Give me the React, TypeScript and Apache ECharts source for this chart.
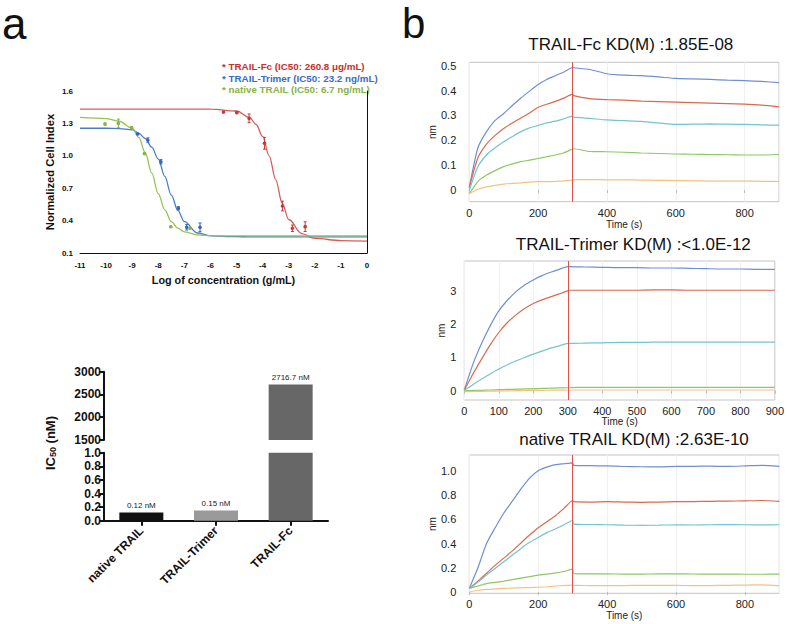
import React, { useEffect, useRef } from 'react';
import * as echarts from 'echarts';

const FONT = '"Liberation Sans", Arial, Helvetica, sans-serif';

// ---------- Panel a: dose response ----------
const CURVE_X = [-11, -10, -9.5, -9, -8.75, -8.5, -8.25, -8, -7.75, -7.5, -7.25, -7, -6.5, -6, -5, -4.5, -4.25, -4, -3.75, -3.5, -3.25, -3, -2.5, -2, -1, 0];
const FC_CURVE = [1.433, 1.433, 1.433, 1.433, 1.433, 1.433, 1.433, 1.433, 1.433, 1.433, 1.433, 1.433, 1.433, 1.432, 1.415, 1.355, 1.29, 1.18, 1.0, 0.78, 0.56, 0.41, 0.28, 0.235, 0.215, 0.21];
const TRIMER_CURVE = [1.255, 1.255, 1.252, 1.24, 1.21, 1.16, 1.08, 0.97, 0.81, 0.635, 0.495, 0.39, 0.285, 0.258, 0.251, 0.25, 0.25, 0.25, 0.25, 0.25, 0.25, 0.25, 0.25, 0.25, 0.25, 0.25];
const NATIVE_CURVE = [1.355, 1.345, 1.32, 1.255, 1.17, 1.03, 0.84, 0.65, 0.5, 0.39, 0.33, 0.295, 0.268, 0.26, 0.258, 0.258, 0.258, 0.258, 0.258, 0.258, 0.258, 0.258, 0.258, 0.258, 0.258, 0.258];

const FC_PTS_X = [-5.5, -4.99, -4.52, -3.93, -3.24, -2.86, -2.37];
const FC_PTS_Y = [1.405, 1.4, 1.347, 1.116, 0.535, 0.329, 0.344];
const FC_PTS_ERR = [0.005, 0.008, 0.04, 0.055, 0.045, 0.03, 0.045];
const TRIMER_PTS_X = [-8.79, -8.4, -7.9, -7.23, -6.91, -6.4];
const TRIMER_PTS_Y = [1.202, 1.146, 0.945, 0.514, 0.338, 0.338];
const TRIMER_PTS_ERR = [0.005, 0.02, 0.02, 0.015, 0.025, 0.04];
const NATIVE_PTS_X = [-10.04, -9.53, -9.02, -8.53, -7.52, -6.78];
const NATIVE_PTS_Y = [1.294, 1.3, 1.26, 1.02, 0.343, 0.33];
const NATIVE_PTS_ERR = [0.01, 0.04, 0.01, 0.005, 0.005, 0.005];

const DOSE_Y_TICKS = [0.1, 0.4, 0.7, 1.0, 1.3, 1.6];
const LEGEND_LINES = [
  '* TRAIL-Fc (IC50: 260.8 \u03bcg/mL)',
  '* TRAIL-Trimer (IC50: 23.2 ng/mL)',
  '* native TRAIL (IC50: 6.7 ng/mL)',
];

// ---------- Panel a: IC50 bars ----------
const BAR_CATS = ['native TRAIL', 'TRAIL-Trimer', 'TRAIL-Fc'];
const BAR_VALUES = [0.12, 0.15, 2716.7];
const BAR_COLORS = ['#111111', '#9a9a9a', '#676767'];

// ---------- Panel b: kinetics ----------
const TIME = [0, 25, 50, 75, 100, 125, 150, 175, 200, 225, 250, 275, 300, 303, 350, 400, 450, 500, 550, 600, 650, 700, 750, 800, 850, 900];

const FC_K_BLUE = [0.01, 0.17, 0.235, 0.28, 0.308, 0.34, 0.37, 0.398, 0.425, 0.445, 0.46, 0.475, 0.493, 0.492, 0.485, 0.468, 0.462, 0.46, 0.455, 0.449, 0.447, 0.445, 0.442, 0.44, 0.437, 0.432];
const FC_K_RED = [0.01, 0.13, 0.185, 0.22, 0.248, 0.27, 0.29, 0.31, 0.333, 0.345, 0.357, 0.37, 0.386, 0.38, 0.368, 0.364, 0.362, 0.358, 0.356, 0.354, 0.352, 0.35, 0.348, 0.346, 0.342, 0.335];
const FC_K_CYAN = [0.0, 0.094, 0.141, 0.17, 0.194, 0.215, 0.235, 0.25, 0.26, 0.27, 0.277, 0.287, 0.297, 0.293, 0.288, 0.282, 0.279, 0.276, 0.27, 0.264, 0.265, 0.266, 0.265, 0.264, 0.262, 0.261];
const FC_K_GREEN = [-0.015, 0.034, 0.06, 0.078, 0.094, 0.105, 0.114, 0.12, 0.127, 0.134, 0.141, 0.15, 0.165, 0.166, 0.155, 0.154, 0.152, 0.149, 0.147, 0.145, 0.144, 0.143, 0.142, 0.141, 0.141, 0.143];
const FC_K_ORANGE = [-0.015, 0.003, 0.013, 0.019, 0.024, 0.027, 0.029, 0.032, 0.034, 0.034, 0.035, 0.037, 0.04, 0.042, 0.042, 0.041, 0.041, 0.04, 0.039, 0.038, 0.037, 0.036, 0.036, 0.036, 0.035, 0.035];

const TRIMER_K_BLUE = [0.02, 0.8, 1.42, 1.95, 2.4, 2.72, 2.98, 3.18, 3.33, 3.46, 3.56, 3.65, 3.73, 3.73, 3.72, 3.71, 3.7, 3.7, 3.69, 3.69, 3.68, 3.67, 3.66, 3.66, 3.65, 3.65];
const TRIMER_K_RED = [0.02, 0.5, 0.95, 1.38, 1.75, 2.05, 2.28, 2.47, 2.62, 2.73, 2.82, 2.91, 3.0, 3.02, 3.02, 3.02, 3.02, 3.02, 3.03, 3.03, 3.02, 3.02, 3.02, 3.02, 3.02, 3.02];
const TRIMER_K_CYAN = [0.02, 0.18, 0.35, 0.5, 0.65, 0.78, 0.9, 1.0, 1.1, 1.19, 1.28, 1.35, 1.42, 1.42, 1.43, 1.44, 1.45, 1.45, 1.46, 1.46, 1.46, 1.46, 1.46, 1.46, 1.46, 1.46];
const TRIMER_K_GREEN = [0.0, 0.005, 0.01, 0.02, 0.03, 0.038, 0.045, 0.052, 0.06, 0.068, 0.075, 0.083, 0.09, 0.095, 0.1, 0.1, 0.1, 0.1, 0.1, 0.1, 0.1, 0.1, 0.1, 0.1, 0.1, 0.1];
const TRIMER_K_ORANGE = [-0.03, -0.025, -0.02, -0.015, -0.01, -0.005, 0.0, 0.005, 0.01, 0.012, 0.015, 0.018, 0.02, 0.02, 0.02, 0.02, 0.02, 0.02, 0.02, 0.02, 0.02, 0.02, 0.02, 0.02, 0.02, 0.02];

const NATIVE_K_BLUE = [0.03, 0.2, 0.4, 0.53, 0.65, 0.75, 0.85, 0.94, 1.0, 1.03, 1.05, 1.058, 1.065, 1.045, 1.042, 1.04, 1.035, 1.033, 1.032, 1.036, 1.037, 1.038, 1.036, 1.04, 1.045, 1.037];
const NATIVE_K_RED = [0.03, 0.09, 0.155, 0.22, 0.28, 0.34, 0.405, 0.47, 0.53, 0.58, 0.63, 0.69, 0.755, 0.745, 0.742, 0.745, 0.742, 0.74, 0.742, 0.745, 0.746, 0.748, 0.75, 0.752, 0.755, 0.748];
const NATIVE_K_CYAN = [0.03, 0.08, 0.14, 0.195, 0.25, 0.305, 0.36, 0.41, 0.45, 0.49, 0.52, 0.555, 0.59, 0.56, 0.557, 0.555, 0.552, 0.55, 0.552, 0.555, 0.553, 0.555, 0.556, 0.555, 0.554, 0.555];
const NATIVE_K_GREEN = [0.03, 0.05, 0.07, 0.08, 0.09, 0.102, 0.115, 0.128, 0.14, 0.148, 0.158, 0.17, 0.19, 0.152, 0.15, 0.15, 0.148, 0.148, 0.15, 0.15, 0.149, 0.148, 0.148, 0.147, 0.147, 0.148];
const NATIVE_K_ORANGE = [0.0, 0.015, 0.022, 0.026, 0.03, 0.033, 0.035, 0.037, 0.04, 0.044, 0.05, 0.054, 0.058, 0.055, 0.054, 0.053, 0.054, 0.055, 0.055, 0.055, 0.054, 0.054, 0.056, 0.058, 0.06, 0.053];

const FC_K_TICKS = [0, 0.1, 0.2, 0.3, 0.4, 0.5];
const TRIMER_K_TICKS = [0, 1, 2, 3];
const NATIVE_K_TICKS = [0, 0.2, 0.4, 0.6, 0.8, 1.0];

const K_COLORS = ['#6f8fd4', '#d96a4e', '#73c4cf', '#8cc865', '#f4c27f'];

function buildOption(): any {
  const doseColors = { fc: '#d95c5a', trimer: '#4a7ccc', native: '#97c155' };
  const ptColors = { fc: '#c8383a', trimer: '#3468c0', native: '#86b445' };

  const curve = (ys: number[], color: string) => ({
    type: 'line',
    xAxisIndex: 0,
    yAxisIndex: 0,
    data: CURVE_X.map((x, i) => [x, ys[i]]),
    showSymbol: false,
    smooth: 0.35,
    smoothMonotone: 'x',
    lineStyle: { color, width: 1.3 },
    z: 2,
  });

  const errPts = (xs: number[], ys: number[], es: number[], color: string) => ({
    type: 'custom',
    xAxisIndex: 0,
    yAxisIndex: 0,
    data: xs.map((x, i) => [x, ys[i], es[i]]),
    z: 4,
    renderItem: (_p: any, api: any) => {
      const x = api.value(0);
      const y = api.value(1);
      const e = api.value(2);
      const c = api.coord([x, y]);
      const hi = api.coord([x, y + e]);
      const lo = api.coord([x, y - e]);
      const st = { stroke: color, lineWidth: 1 };
      return {
        type: 'group',
        children: [
          { type: 'line', shape: { x1: c[0], y1: hi[1], x2: c[0], y2: lo[1] }, style: st },
          { type: 'line', shape: { x1: c[0] - 1.5, y1: hi[1], x2: c[0] + 1.5, y2: hi[1] }, style: st },
          { type: 'line', shape: { x1: c[0] - 1.5, y1: lo[1], x2: c[0] + 1.5, y2: lo[1] }, style: st },
          { type: 'circle', shape: { cx: c[0], cy: c[1], r: 1.8 }, style: { fill: color } },
        ],
      };
    },
  });

  const kin = (idx: number, arrays: number[][]) =>
    arrays.map((arr, j) => ({
      type: 'line',
      xAxisIndex: idx,
      yAxisIndex: idx,
      data: TIME.map((t, i) => [t, arr[i]]),
      showSymbol: false,
      smooth: 0.2,
      lineStyle: { color: K_COLORS[j], width: 1.2 },
      z: 3,
      markLine:
        j === 0
          ? {
              silent: true,
              symbol: 'none',
              label: { show: false },
              lineStyle: { color: '#e0504a', width: 1, type: 'solid' },
              data: [{ xAxis: 300 }],
            }
          : undefined,
    }));

  const kGrid = (left: number, top: number, width: number, height: number) => ({
    left,
    top,
    width,
    height,
    show: true,
    borderColor: '#c4c4c4',
    borderWidth: 1,
    backgroundColor: '#ffffff',
  });

  const kX = (gridIndex: number, interval: number, showMax: boolean, margin: number, nameGap: number) => ({
    type: 'value',
    gridIndex,
    min: 0,
    max: 900,
    interval,
    axisLine: { show: false },
    axisTick: { show: true, length: 3, lineStyle: { color: '#bbbbbb' } },
    axisLabel: { fontFamily: FONT, fontSize: 11, color: '#222', margin, showMaxLabel: showMax },
    splitLine: { show: true, lineStyle: { color: '#efefef', width: 1 } },
    name: 'Time (s)',
    nameLocation: 'middle',
    nameGap,
    nameTextStyle: { fontFamily: FONT, fontSize: 10, color: '#222' },
  });

  const kY = (gridIndex: number, min: number, max: number, ticks: number[], fmt: (v: number) => string, margin: number, nameGap: number) => ({
    type: 'value',
    gridIndex,
    min,
    max,
    axisLine: { show: false },
    axisTick: { show: false, customValues: ticks },
    axisLabel: {
      customValues: ticks,
      formatter: (v: number) => fmt(v),
      fontFamily: FONT,
      fontSize: 11,
      color: '#222',
      margin,
    },
    splitLine: { show: false },
    name: 'nm',
    nameLocation: 'middle',
    nameGap,
    nameTextStyle: { fontFamily: FONT, fontSize: 10, color: '#222' },
  });

  const upperMin = 1500;

  const barLabel = {
    show: true,
    position: 'top',
    distance: 3,
    fontFamily: FONT,
    fontSize: 8,
    color: '#222',
    formatter: (p: any) => `${p.value} nM`,
  };

  return {
    animation: false,
    backgroundColor: '#ffffff',
    textStyle: { fontFamily: FONT },
    grid: [
      { left: 80, top: 91, width: 287, height: 162 },
      { left: 104, top: 371.7, width: 224, height: 68.3 },
      { left: 104, top: 452.7, width: 224, height: 68 },
      kGrid(469.3, 62.3, 309.7, 139.4),
      kGrid(464.3, 261, 311.4, 139),
      kGrid(469.3, 455, 310, 138.3),
    ],
    xAxis: [
      {
        type: 'value',
        gridIndex: 0,
        min: -11,
        max: 0,
        interval: 1,
        axisLine: { show: true, lineStyle: { color: '#111', width: 1 } },
        axisTick: { show: false },
        axisLabel: { fontFamily: FONT, fontSize: 8, fontWeight: 'bold', color: '#111', margin: 8 },
        splitLine: { show: false },
        name: 'Log of concentration (g/mL)',
        nameLocation: 'middle',
        nameGap: 21,
        nameTextStyle: { fontFamily: FONT, fontSize: 10.8, fontWeight: 'bold', color: '#111' },
      },
      {
        type: 'category',
        gridIndex: 1,
        data: BAR_CATS,
        show: false,
      },
      {
        type: 'category',
        gridIndex: 2,
        data: BAR_CATS,
        axisLine: { show: true, lineStyle: { color: '#111', width: 2 } },
        axisTick: { show: true, alignWithLabel: true, length: 5, lineStyle: { color: '#111', width: 2 } },
        axisLabel: { rotate: 45, fontFamily: FONT, fontSize: 12, fontWeight: 'bold', color: '#111', margin: 8 },
      },
      kX(3, 200, false, 6, 18),
      kX(4, 100, true, 5, 16),
      kX(5, 200, false, 5, 15),
    ],
    yAxis: [
      {
        type: 'value',
        gridIndex: 0,
        min: 0.1,
        max: 1.6,
        axisLine: { show: true, lineStyle: { color: '#111', width: 1 } },
        axisTick: { show: false, customValues: DOSE_Y_TICKS },
        axisLabel: {
          customValues: DOSE_Y_TICKS,
          formatter: (v: number) => v.toFixed(1),
          fontFamily: FONT,
          fontSize: 8,
          fontWeight: 'bold',
          color: '#111',
          margin: 7,
        },
        splitLine: { show: false },
        name: 'Normalized Cell Index',
        nameLocation: 'middle',
        nameGap: 25,
        nameTextStyle: { fontFamily: FONT, fontSize: 11.2, fontWeight: 'bold', color: '#111' },
      },
      {
        type: 'value',
        gridIndex: 1,
        min: upperMin,
        max: 3000,
        interval: 500,
        axisLine: { show: true, lineStyle: { color: '#111', width: 2 } },
        axisTick: { show: true, length: 5, lineStyle: { color: '#111', width: 2 } },
        axisLabel: { formatter: (v: number) => String(v), fontFamily: FONT, fontSize: 12, fontWeight: 'bold', color: '#111', margin: 3 },
        splitLine: { show: false },
      },
      {
        type: 'value',
        gridIndex: 2,
        min: 0,
        max: 1,
        interval: 0.2,
        axisLine: { show: true, lineStyle: { color: '#111', width: 2 } },
        axisTick: { show: true, length: 5, lineStyle: { color: '#111', width: 2 } },
        axisLabel: {
          formatter: (v: number) => v.toFixed(1),
          fontFamily: FONT,
          fontSize: 12,
          fontWeight: 'bold',
          color: '#111',
          margin: 3,
        },
        splitLine: { show: false },
      },
      kY(3, -0.047, 0.514, FC_K_TICKS, (v) => (v === 0 ? '0' : v.toFixed(1)), 13, 22),
      kY(4, -0.28, 3.9, TRIMER_K_TICKS, (v) => String(v), 8, 18),
      kY(5, -0.01, 1.13, NATIVE_K_TICKS, (v) => (v === 0 ? '0' : v.toFixed(1)), 13, 22),
    ],
    series: [
      curve(FC_CURVE, doseColors.fc),
      curve(TRIMER_CURVE, doseColors.trimer),
      curve(NATIVE_CURVE, doseColors.native),
      errPts(FC_PTS_X, FC_PTS_Y, FC_PTS_ERR, ptColors.fc),
      errPts(TRIMER_PTS_X, TRIMER_PTS_Y, TRIMER_PTS_ERR, ptColors.trimer),
      errPts(NATIVE_PTS_X, NATIVE_PTS_Y, NATIVE_PTS_ERR, ptColors.native),
      {
        type: 'bar',
        xAxisIndex: 1,
        yAxisIndex: 1,
        barWidth: 44,
        clip: true,
        data: BAR_VALUES.map((v, i) =>
          v >= upperMin ? { value: v, itemStyle: { color: BAR_COLORS[i] }, label: barLabel } : '-'
        ),
      },
      {
        type: 'bar',
        xAxisIndex: 2,
        yAxisIndex: 2,
        barWidth: 44,
        clip: true,
        data: BAR_VALUES.map((v, i) => ({
          value: v,
          itemStyle: { color: BAR_COLORS[i] },
          label: v <= 1 ? barLabel : { show: false },
        })),
      },
      ...kin(3, [FC_K_BLUE, FC_K_RED, FC_K_CYAN, FC_K_GREEN, FC_K_ORANGE]),
      ...kin(4, [TRIMER_K_BLUE, TRIMER_K_RED, TRIMER_K_CYAN, TRIMER_K_GREEN, TRIMER_K_ORANGE]),
      ...kin(5, [NATIVE_K_BLUE, NATIVE_K_RED, NATIVE_K_CYAN, NATIVE_K_GREEN, NATIVE_K_ORANGE]),
    ],
    graphic: [
      { type: 'text', x: 2, y: 23, style: { text: 'a', font: `44px ${FONT}`, fill: '#111', verticalAlign: 'middle' } },
      { type: 'text', x: 402, y: 23, style: { text: 'b', font: `42px ${FONT}`, fill: '#111', verticalAlign: 'middle' } },
      { type: 'text', x: 222, y: 66, style: { text: LEGEND_LINES[0], font: `bold 9.8px ${FONT}`, fill: '#c8302c', verticalAlign: 'middle' } },
      { type: 'text', x: 222, y: 78, style: { text: LEGEND_LINES[1], font: `bold 9.8px ${FONT}`, fill: '#3a6cc0', verticalAlign: 'middle' } },
      { type: 'text', x: 222, y: 89.5, style: { text: LEGEND_LINES[2], font: `bold 9.8px ${FONT}`, fill: '#86b445', verticalAlign: 'middle' } },
      {
        type: 'text',
        x: 50,
        y: 443,
        rotation: Math.PI / 2,
        style: {
          text: '{a|IC}{s|50}{a| (nM)}',
          align: 'center',
          verticalAlign: 'middle',
          rich: {
            a: { fontFamily: FONT, fontSize: 13, fontWeight: 'bold', fill: '#111', color: '#111' },
            s: { fontFamily: FONT, fontSize: 9, fontWeight: 'bold', fill: '#111', color: '#111', padding: [6, 0, 0, 0] },
          },
        },
      },
      { type: 'text', x: 630.8, y: 44, style: { text: 'TRAIL-Fc KD(M) :1.85E-08', font: `17px ${FONT}`, fill: '#111', align: 'center', verticalAlign: 'middle' } },
      { type: 'text', x: 633.3, y: 244, style: { text: 'TRAIL-Trimer KD(M) :<1.0E-12', font: `17px ${FONT}`, fill: '#111', align: 'center', verticalAlign: 'middle' } },
      { type: 'text', x: 634, y: 439, style: { text: 'native TRAIL KD(M) :2.63E-10', font: `17px ${FONT}`, fill: '#111', align: 'center', verticalAlign: 'middle' } },
    ],
  };
}

export default function App() {
  const ref = useRef<HTMLDivElement>(null);
  useEffect(() => {
    document.body.style.margin = '0';
    if (!ref.current) return;
    const chart = echarts.init(ref.current, undefined, { renderer: 'svg' });
    chart.setOption(buildOption());
    return () => chart.dispose();
  }, []);
  return <div ref={ref} style={{ width: 787, height: 624 }} />;
}
